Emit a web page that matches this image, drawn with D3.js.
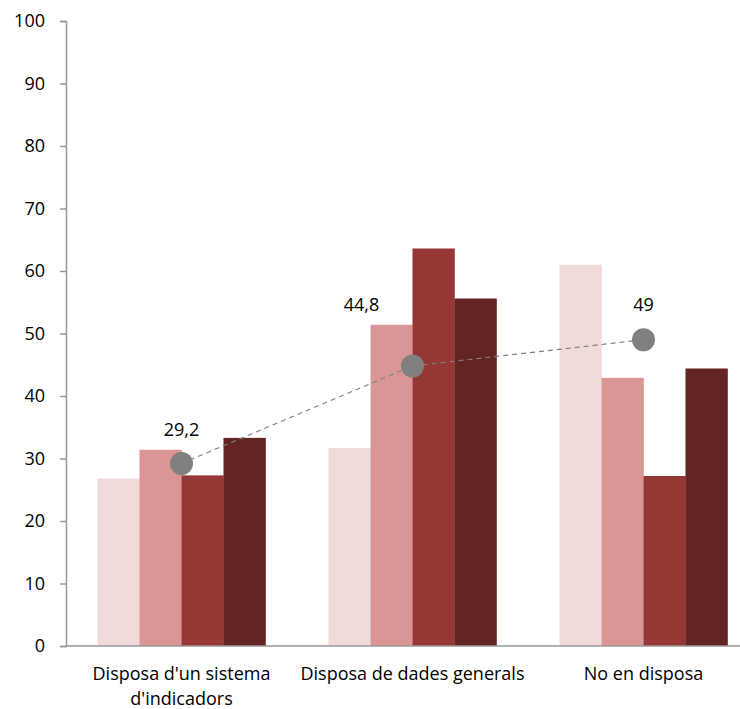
<!DOCTYPE html>
<html><head><meta charset="utf-8">
<script src="https://cdn.jsdelivr.net/npm/d3@7"></script>
<style>
html,body{margin:0;padding:0;background:#fff;}
svg{display:block;font-family:"Open Sans",sans-serif;}
</style></head>
<body>
<svg id="c" width="740" height="709"></svg>
<script>
const categories = ["Disposa d'un sistema d'indicadors", "Disposa de dades generals", "No en disposa"];
const categoryLines = [["Disposa d'un sistema", "d'indicadors"], ["Disposa de dades generals"], ["No en disposa"]];
const series = ["s1", "s2", "s3", "s4"];
const seriesValues = [
  [26.8, 31.7, 61.0],
  [31.4, 51.4, 42.9],
  [27.3, 63.6, 27.2],
  [33.3, 55.6, 44.4]
];
const totalValues = [29.2, 44.8, 49];
const totalLabels = ["29,2", "44,8", "49"];
const yTicks = [0, 10, 20, 30, 40, 50, 60, 70, 80, 90, 100];
const colors = ["#F0DADA", "#DA9694", "#953735", "#632423"];

const svg = d3.select("#c");
const y = d3.scaleLinear().domain([0, 100]).range([646, 21]);
const x = d3.scaleBand().domain(categories).range([66, 759]).padding(0);
const xs = d3.scaleBand().domain(series).range([31.5, x.bandwidth() - 31.5]).padding(0);

// bars
series.forEach((s, si) => {
  svg.append("g").selectAll("rect").data(categories).join("rect")
    .attr("x", (c) => x(c) + xs(s))
    .attr("width", xs.bandwidth() + 0.3)
    .attr("y", (c, ci) => y(seriesValues[si][ci]))
    .attr("height", (c, ci) => y(0) - y(seriesValues[si][ci]))
    .attr("fill", colors[si]);
});

// y axis
const yAxis = d3.axisLeft(y).tickValues(yTicks).tickSize(6).tickPadding(15);
const gy = svg.append("g").attr("transform", "translate(66,0)").call(yAxis);
gy.select(".domain").attr("stroke", "#989898").attr("stroke-width", 1.5);
gy.selectAll(".tick line").attr("stroke", "#989898").attr("stroke-width", 1.5);
gy.selectAll(".tick text").attr("fill", "#000").style("font-size", "18px").style("font-family", "'Open Sans',sans-serif");

// x axis line
svg.append("line").attr("x1", 66).attr("x2", 740).attr("y1", y(0)).attr("y2", y(0))
  .attr("stroke", "#989898").attr("stroke-width", 1.5);

// x labels
categories.forEach((c, ci) => {
  const t = svg.append("text").attr("text-anchor", "middle")
    .attr("fill", "#000").style("font-size", "18px");
  categoryLines[ci].forEach((ln, li) => {
    t.append("tspan").attr("x", x(c) + x.bandwidth() / 2).attr("y", 680 + li * 25).text(ln);
  });
});

// total line
const cx = (c) => x(c) + x.bandwidth() / 2;
const line = d3.line().x((d, i) => cx(categories[i])).y((d) => y(d));
svg.append("path").datum(totalValues).attr("d", line)
  .attr("fill", "none").attr("stroke", "#808080").attr("stroke-width", 1.2)
  .attr("stroke-dasharray", "5,4");
svg.append("g").selectAll("circle").data(totalValues).join("circle")
  .attr("cx", (d, i) => cx(categories[i])).attr("cy", (d) => y(d)).attr("r", 11.5)
  .attr("fill", "#808080");

// total labels
const labelDx = [0, -51, 0];
const labelDy = [-28, -55, -29];
svg.append("g").selectAll("text").data(totalValues).join("text")
  .attr("x", (d, i) => cx(categories[i]) + labelDx[i])
  .attr("y", (d, i) => y(d) + labelDy[i])
  .attr("text-anchor", "middle").attr("fill", "#000").style("font-size", "18px")
  .text((d, i) => totalLabels[i]);
</script>
</body></html>
